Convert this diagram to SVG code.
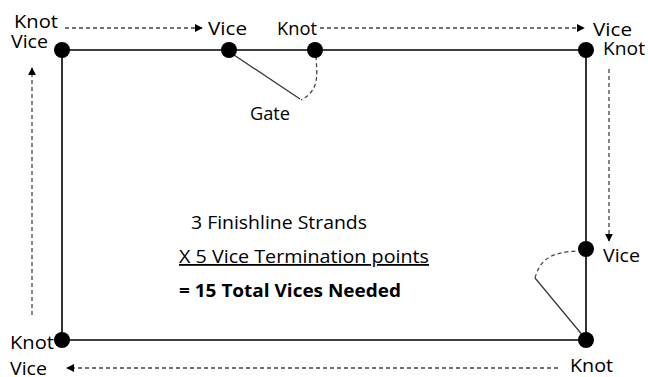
<svg xmlns="http://www.w3.org/2000/svg" width="648" height="377" viewBox="0 0 648 377">
<defs>
<style>
.t{font-family:"Open Sans","Noto Sans",sans-serif;font-size:18px;fill:#000}
.b{font-weight:bold}
.edge{stroke:#000;stroke-width:1.6;fill:none}
.gate{stroke:#333;stroke-width:1.2;fill:none}
.dash{stroke:#444;stroke-width:1.3;stroke-dasharray:4,3;fill:none}
.n{fill:#000}
</style>
<marker id="ah" viewBox="0 0 10 10" refX="9" refY="5" markerWidth="8" markerHeight="8" markerUnits="userSpaceOnUse" orient="auto">
<path d="M0,0 L10,5 L0,10 z" fill="#000"/>
</marker>
</defs>
<rect width="648" height="377" fill="#fff"/>
<g id="connectors">
<line class="edge" x1="62" y1="50" x2="586" y2="50"/>
<line class="edge" x1="586" y1="50" x2="586" y2="340"/>
<line class="edge" x1="586" y1="340" x2="62" y2="340"/>
<line class="edge" x1="62" y1="340" x2="62" y2="50"/>
<line class="gate" x1="231" y1="53" x2="300" y2="99"/>
<path class="dash" d="M316,56 C317,75 320,90 301,100"/>
<line class="gate" x1="584" y1="337" x2="535" y2="278"/>
<path class="dash" d="M535,278 C540,260 550,252 578,251"/>
<line class="dash" x1="65" y1="28" x2="202" y2="28" marker-end="url(#ah)"/>
<line class="dash" x1="320" y1="28" x2="584" y2="28" marker-end="url(#ah)"/>
<line class="dash" x1="609" y1="69" x2="609" y2="241" marker-end="url(#ah)"/>
<line class="dash" x1="558" y1="368" x2="67" y2="368" marker-end="url(#ah)"/>
<line class="dash" x1="32" y1="315" x2="32" y2="68" marker-end="url(#ah)"/>
</g>
<g id="node-tl"><circle class="n" cx="62" cy="50" r="8"/><text class="t" x="14" y="28" textLength="44" lengthAdjust="spacingAndGlyphs">Knot</text><text class="t" x="11" y="48" textLength="37" lengthAdjust="spacingAndGlyphs">Vice</text></g>
<g id="node-vice-top"><circle class="n" cx="229" cy="50" r="8"/><text class="t" x="208" y="35" textLength="39" lengthAdjust="spacingAndGlyphs">Vice</text></g>
<g id="node-knot-top"><circle class="n" cx="315" cy="50" r="8"/><text class="t" x="277" y="35" textLength="40" lengthAdjust="spacingAndGlyphs">Knot</text></g>
<g id="node-tr"><circle class="n" cx="586" cy="50" r="8"/><text class="t" x="593" y="36" textLength="39" lengthAdjust="spacingAndGlyphs">Vice</text><text class="t" x="603" y="55" textLength="42" lengthAdjust="spacingAndGlyphs">Knot</text></g>
<g id="node-vice-right"><circle class="n" cx="586" cy="249" r="8"/><text class="t" x="603" y="262" textLength="37" lengthAdjust="spacingAndGlyphs">Vice</text></g>
<g id="node-br"><circle class="n" cx="586" cy="340" r="8"/><text class="t" x="570" y="372" textLength="43" lengthAdjust="spacingAndGlyphs">Knot</text></g>
<g id="node-bl"><circle class="n" cx="62" cy="340" r="8"/><text class="t" x="10" y="349" textLength="44" lengthAdjust="spacingAndGlyphs">Knot</text><text class="t" x="10" y="375" textLength="37" lengthAdjust="spacingAndGlyphs">Vice</text></g>
<g id="gate-label"><text class="t" x="250" y="120" textLength="40" lengthAdjust="spacingAndGlyphs">Gate</text></g>
<g id="summary">
<text class="t" x="191" y="229" textLength="176" lengthAdjust="spacingAndGlyphs">3 Finishline Strands</text>
<text class="t" x="179" y="263" textLength="250" lengthAdjust="spacingAndGlyphs" text-decoration="underline">X 5 Vice Termination points</text>
<text class="t b" x="179" y="297" textLength="222" lengthAdjust="spacingAndGlyphs">= 15 Total Vices Needed</text>
</g>
</svg>
